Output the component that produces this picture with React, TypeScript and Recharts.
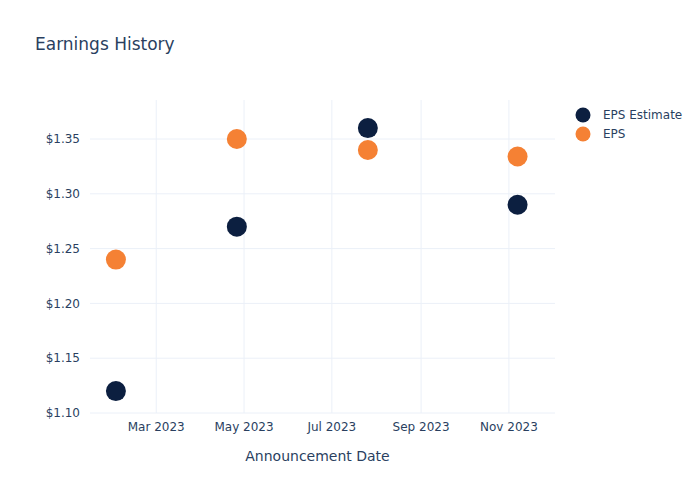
import React from "react";
import { ScatterChart, Scatter, XAxis, YAxis, CartesianGrid, Legend } from "recharts";

const announcementDates = ["2023-02-01", "2023-04-26", "2023-07-26", "2023-11-07"];
const epsEstimate = [1.12, 1.27, 1.36, 1.29];
const epsActual = [1.24, 1.35, 1.34, 1.334];
const xTickDates = ["2023-03-01", "2023-05-01", "2023-07-01", "2023-09-01", "2023-11-01"];
const xTickLabels = ["Mar 2023", "May 2023", "Jul 2023", "Sep 2023", "Nov 2023"];
const yTicks = [1.1, 1.15, 1.2, 1.25, 1.3, 1.35];

const ts = (d: string) => Date.parse(d + "T00:00:00Z");
const xDomain = [ts("2023-01-14"), ts("2023-12-03")];
const yDomain = [1.1, 1.3856];

const estimateData = announcementDates.map((d, i) => ({ x: ts(d), y: epsEstimate[i] }));
const epsData = announcementDates.map((d, i) => ({ x: ts(d), y: epsActual[i] }));
const xTicks = xTickDates.map(ts);

const NAVY = "#0c1f40";
const ORANGE = "#f58134";
const TEXT = "#2a3f5f";
const GRID = "#ebf0f8";
const FONT = "'DejaVu Sans', Verdana, sans-serif";

const dot = (color: string) => (props: any) => (
  <circle cx={props.cx} cy={props.cy} r={10} fill={color} />
);

const hGen = (p: any) => {
  const o = p.offset;
  return yTicks.map((t) => o.top + o.height * (1 - (t - yDomain[0]) / (yDomain[1] - yDomain[0])));
};
const vGen = (p: any) => {
  const o = p.offset;
  return xTicks.map((t) => o.left + o.width * ((t - xDomain[0]) / (xDomain[1] - xDomain[0])));
};

const LegendContent = () => (
  <div style={{ fontFamily: FONT, fontSize: 12, color: TEXT }}>
    {[
      { name: "EPS Estimate", color: NAVY },
      { name: "EPS", color: ORANGE },
    ].map((it) => (
      <div key={it.name} style={{ display: "flex", alignItems: "center", height: 19 }}>
        <svg width={16} height={16} style={{ marginRight: 12 }}>
          <circle cx={8} cy={8} r={7.5} fill={it.color} />
        </svg>
        <span>{it.name}</span>
      </div>
    ))}
  </div>
);

export default function App() {
  return (
    <div style={{ position: "absolute", left: 0, top: 0, width: 700, height: 500, background: "#fff" }}>
      <svg style={{ position: "absolute", left: 0, top: 0 }} width={700} height={80}>
        <text x={35} y={50} fontFamily={FONT} fontSize={17} fill={TEXT}>
          Earnings History
        </text>
      </svg>
      <ScatterChart
        width={700}
        height={500}
        margin={{ top: 100, right: 20, bottom: 57, left: 30 }}
        style={{ fontFamily: FONT }}
      >
        <CartesianGrid
          stroke={GRID}
          strokeWidth={1}
          horizontalCoordinatesGenerator={hGen}
          verticalCoordinatesGenerator={vGen}
        />
        <XAxis
          type="number"
          dataKey="x"
          domain={xDomain}
          ticks={xTicks}
          tickFormatter={(v: number) => xTickLabels[xTicks.indexOf(v)] ?? ""}
          axisLine={false}
          tickLine={false}
          tickSize={0}
          tickMargin={9}
          height={30}
          tick={{ fill: TEXT, fontSize: 12, fontFamily: FONT }}
          allowDataOverflow
          label={{
            value: "Announcement Date",
            position: "bottom",
            offset: 8,
            dx: -5,
            fill: TEXT,
            fontSize: 14,
            fontFamily: FONT,
          }}
        />
        <YAxis
          type="number"
          dataKey="y"
          domain={yDomain}
          ticks={yTicks}
          tickFormatter={(v: number) => "$" + v.toFixed(2)}
          axisLine={false}
          tickLine={false}
          tickSize={0}
          tickMargin={10}
          width={60}
          tick={{ fill: TEXT, fontSize: 12, fontFamily: FONT }}
          allowDataOverflow
        />
        <Legend
          layout="vertical"
          align="right"
          verticalAlign="top"
          content={<LegendContent />}
          wrapperStyle={{ position: "absolute", left: 575, top: 105, width: 125 }}
        />
        <Scatter name="EPS Estimate" data={estimateData} fill={NAVY} shape={dot(NAVY)} isAnimationActive={false} />
        <Scatter name="EPS" data={epsData} fill={ORANGE} shape={dot(ORANGE)} isAnimationActive={false} />
      </ScatterChart>
    </div>
  );
}
